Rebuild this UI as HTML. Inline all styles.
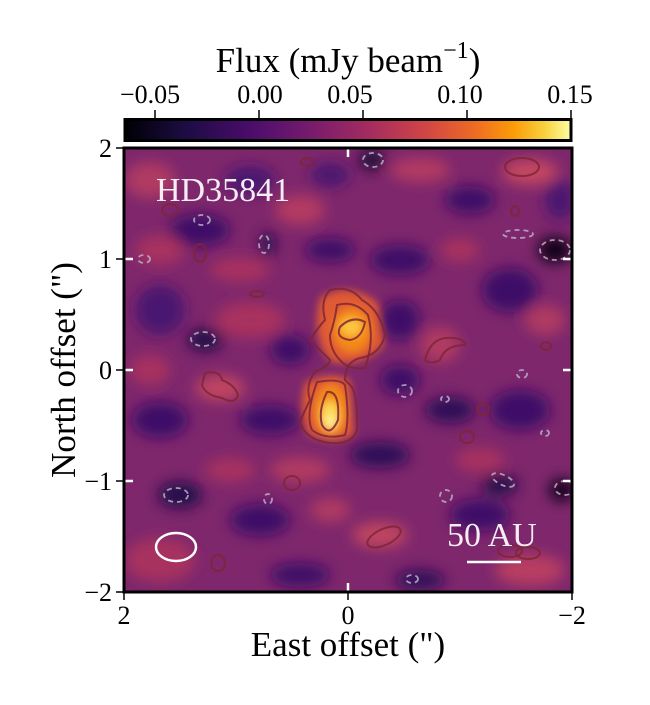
<!DOCTYPE html>
<html><head><meta charset="utf-8"><style>
body{margin:0;background:#fff;}
svg text{font-family:"Liberation Serif",serif;}
</style></head><body>
<svg width="650" height="700" viewBox="0 0 650 700" xmlns="http://www.w3.org/2000/svg">
<defs>
<linearGradient id="cb" x1="0" x2="1" y1="0" y2="0">
<stop offset="0" stop-color="#000004"/>
<stop offset="0.13" stop-color="#1b0c41"/>
<stop offset="0.28" stop-color="#4a0c6b"/>
<stop offset="0.42" stop-color="#781c6d"/>
<stop offset="0.55" stop-color="#a52c60"/>
<stop offset="0.67" stop-color="#cf4446"/>
<stop offset="0.78" stop-color="#ed6925"/>
<stop offset="0.87" stop-color="#fb9b06"/>
<stop offset="0.94" stop-color="#f7d13d"/>
<stop offset="1" stop-color="#fcffa4"/>
</linearGradient>
<filter id="bl" x="-20%" y="-20%" width="140%" height="140%"><feGaussianBlur stdDeviation="7"/></filter>
<filter id="bl2" x="-50%" y="-50%" width="200%" height="200%"><feGaussianBlur stdDeviation="4"/></filter>
<clipPath id="cp"><rect x="124" y="148" width="448" height="444"/></clipPath>
</defs>
<text x="348" y="72" font-size="35" text-anchor="middle">Flux (mJy beam<tspan dy="-14" font-size="24">−1</tspan><tspan dy="14">)</tspan></text>
<g font-size="26" text-anchor="middle">
<text x="150" y="103">−0.05</text><text x="260" y="103">0.00</text><text x="350" y="103">0.05</text><text x="460" y="103">0.10</text><text x="570" y="103">0.15</text>
</g>
<g stroke="#000" stroke-width="1.5">
<line x1="155" y1="110" x2="155" y2="118"/><line x1="259" y1="110" x2="259" y2="118"/><line x1="363" y1="110" x2="363" y2="118"/><line x1="467" y1="110" x2="467" y2="118"/><line x1="571" y1="110" x2="571" y2="118"/>
</g>
<rect x="125" y="119.5" width="446" height="21" fill="url(#cb)" stroke="#000" stroke-width="3"/>
<g clip-path="url(#cp)">
<rect x="124" y="148" width="448" height="444" fill="#7e276c"/>
<g filter="url(#bl)">
<ellipse cx="150" cy="180" rx="25" ry="18" fill="#b03a62"/>
<ellipse cx="200" cy="230" rx="30" ry="16" fill="#3e1068"/>
<ellipse cx="250" cy="180" rx="25" ry="14" fill="#4a1470"/>
<ellipse cx="300" cy="210" rx="25" ry="15" fill="#b33a62"/>
<ellipse cx="330" cy="175" rx="20" ry="12" fill="#4a1470"/>
<ellipse cx="420" cy="170" rx="30" ry="12" fill="#b33a62"/>
<ellipse cx="470" cy="200" rx="25" ry="14" fill="#3e1068"/>
<ellipse cx="530" cy="172" rx="28" ry="13" fill="#c44660"/>
<ellipse cx="560" cy="200" rx="15" ry="20" fill="#4a1470"/>
<ellipse cx="400" cy="260" rx="30" ry="15" fill="#3c1068"/>
<ellipse cx="460" cy="250" rx="20" ry="12" fill="#a8325f"/>
<ellipse cx="330" cy="250" rx="25" ry="12" fill="#3e1068"/>
<ellipse cx="240" cy="270" rx="30" ry="12" fill="#a8325f"/>
<ellipse cx="160" cy="250" rx="25" ry="15" fill="#a8325f"/>
<ellipse cx="510" cy="290" rx="28" ry="22" fill="#3e1068"/>
<ellipse cx="545" cy="320" rx="20" ry="15" fill="#b03a62"/>
<ellipse cx="250" cy="320" rx="35" ry="18" fill="#a8325f"/>
<ellipse cx="160" cy="310" rx="25" ry="25" fill="#4a1470"/>
<ellipse cx="205" cy="340" rx="18" ry="11" fill="#200a48"/>
<ellipse cx="290" cy="350" rx="20" ry="15" fill="#3e1068"/>
<ellipse cx="400" cy="320" rx="20" ry="20" fill="#3e1068"/>
<ellipse cx="220" cy="388" rx="25" ry="13" fill="#c04460"/>
<ellipse cx="150" cy="370" rx="20" ry="15" fill="#a8325f"/>
<ellipse cx="160" cy="420" rx="28" ry="18" fill="#3e1068"/>
<ellipse cx="270" cy="420" rx="30" ry="15" fill="#3e1068"/>
<ellipse cx="400" cy="380" rx="20" ry="15" fill="#3e1068"/>
<ellipse cx="440" cy="345" rx="20" ry="18" fill="#b03a62"/>
<ellipse cx="450" cy="410" rx="25" ry="13" fill="#2e0c58"/>
<ellipse cx="520" cy="410" rx="30" ry="20" fill="#3e1068"/>
<ellipse cx="480" cy="460" rx="25" ry="12" fill="#a8325f"/>
<ellipse cx="380" cy="455" rx="30" ry="13" fill="#2e0c58"/>
<ellipse cx="300" cy="470" rx="30" ry="13" fill="#b03a62"/>
<ellipse cx="180" cy="495" rx="22" ry="13" fill="#200a48"/>
<ellipse cx="230" cy="470" rx="25" ry="12" fill="#a8325f"/>
<ellipse cx="160" cy="560" rx="35" ry="22" fill="#a8325f"/>
<ellipse cx="260" cy="520" rx="30" ry="16" fill="#3e1068"/>
<ellipse cx="330" cy="510" rx="20" ry="12" fill="#b03a62"/>
<ellipse cx="380" cy="535" rx="28" ry="13" fill="#c04460"/>
<ellipse cx="480" cy="515" rx="30" ry="16" fill="#3e1068"/>
<ellipse cx="530" cy="570" rx="35" ry="16" fill="#b83e62"/>
<ellipse cx="420" cy="580" rx="25" ry="10" fill="#2e0c58"/>
<ellipse cx="300" cy="575" rx="30" ry="12" fill="#3e1068"/>
<ellipse cx="555" cy="250" rx="17" ry="13" fill="#0a0318"/>
<ellipse cx="372" cy="160" rx="13" ry="10" fill="#1a0838"/>
<ellipse cx="500" cy="485" rx="18" ry="10" fill="#200a48"/>
<ellipse cx="562" cy="490" rx="13" ry="11" fill="#10051f"/>
<ellipse cx="268" cy="244" rx="8" ry="12" fill="#2a0c50"/>
</g>
<g filter="url(#bl2)">
<path d="M320 298 Q348 280 378 303 L384 345 Q362 368 332 362 Q310 340 320 298Z" fill="#e05a32"/>
<path d="M305 383 Q330 370 350 380 L354 434 Q335 447 308 434 Q298 412 305 383Z" fill="#e05a32"/>
<ellipse cx="352" cy="330" rx="19" ry="22" fill="#f48a18"/>
<ellipse cx="331" cy="410" rx="16" ry="26" fill="#f48a18"/>
<ellipse cx="351" cy="327" rx="11" ry="9" fill="#fbc640"/>
<ellipse cx="330" cy="415" rx="9" ry="14" fill="#fcd856"/>
<ellipse cx="330" cy="422" rx="5" ry="7" fill="#fdf39a"/>
</g>
<g fill="none" stroke="#7e2636" stroke-width="2" stroke-opacity="0.85">
<path d="M330 290 Q350 285 362 300 Q380 310 385 335 Q380 355 360 358 Q345 362 345 380 L350 385 Q358 392 357 430 Q352 445 330 443 Q305 440 300 422 Q305 410 310 400 Q305 385 315 372 Q330 365 330 360 Q320 350 310 340 Q320 325 325 320 Q320 300 330 290Z"/>
<path d="M337 305 Q355 300 368 315 Q375 340 365 368 Q348 370 340 360 Q330 350 330 335 Q335 320 337 305Z"/>
<path d="M317 382 Q340 378 345 385 Q350 420 345 435 Q325 440 312 430 Q305 415 317 382Z"/>
<path d="M340 327 Q352 315 365 322 Q362 338 350 340 Q335 338 340 327Z"/>
<path d="M327 392 Q340 390 338 420 Q330 438 322 425 Q318 410 327 392Z"/>
<path d="M205 373 Q220 370 222 380 Q235 385 238 395 Q235 405 222 398 Q205 395 202 385Z"/>
<path d="M425 360 Q430 340 445 338 Q465 337 465 345 Q445 345 440 360 Q430 365 425 360Z"/>
<ellipse cx="522" cy="167" rx="17" ry="9"/>
<ellipse cx="307" cy="162" rx="6" ry="4"/>
<ellipse cx="170" cy="210" rx="8" ry="6"/>
<ellipse cx="200" cy="253" rx="6" ry="9"/>
<ellipse cx="515" cy="211" rx="4" ry="5"/>
<ellipse cx="257" cy="294" rx="7" ry="3"/>
<ellipse cx="546" cy="346" rx="5" ry="4"/>
<ellipse cx="483" cy="409" rx="6" ry="6"/>
<ellipse cx="467" cy="437" rx="7" ry="6"/>
<ellipse cx="292" cy="483" rx="8" ry="7"/>
<ellipse cx="384" cy="537" rx="18" ry="8" transform="rotate(-25 384 537)"/>
<ellipse cx="218" cy="563" rx="7" ry="8"/>
<ellipse cx="510" cy="551" rx="12" ry="6"/>
<ellipse cx="528" cy="553" rx="12" ry="6"/>
</g>
<g fill="none" stroke="#b8b0c8" stroke-width="1.8" stroke-dasharray="5,4" stroke-opacity="0.85">
<ellipse cx="373" cy="160" rx="10" ry="7"/>
<ellipse cx="202" cy="220" rx="8" ry="5"/>
<ellipse cx="264" cy="244" rx="5" ry="9"/>
<ellipse cx="518" cy="234" rx="15" ry="4"/>
<ellipse cx="555" cy="250" rx="15" ry="10"/>
<ellipse cx="144" cy="259" rx="6" ry="4"/>
<ellipse cx="203" cy="339" rx="12" ry="7"/>
<ellipse cx="405" cy="391" rx="7" ry="6"/>
<ellipse cx="522" cy="374" rx="5" ry="4"/>
<ellipse cx="445" cy="399" rx="4" ry="3"/>
<ellipse cx="545" cy="433" rx="4" ry="3"/>
<ellipse cx="176" cy="495" rx="12" ry="7"/>
<ellipse cx="268" cy="499" rx="4" ry="5"/>
<ellipse cx="446" cy="496" rx="6" ry="6"/>
<ellipse cx="503" cy="480" rx="12" ry="5" transform="rotate(25 503 480)"/>
<ellipse cx="565" cy="488" rx="10" ry="7"/>
<ellipse cx="412" cy="579" rx="6" ry="4"/>
</g>
<ellipse cx="176" cy="547" rx="20" ry="14" fill="none" stroke="#fff" stroke-width="2.5"/>
<line x1="467" y1="562" x2="521" y2="562" stroke="#fff" stroke-width="2.5"/>
<text x="156" y="201" font-size="34" fill="#f4eef4">HD35841</text>
<text x="447" y="546" font-size="34" fill="#f4eef4">50 AU</text>
<g stroke="#fff" stroke-width="2.5">
<line x1="348" y1="148" x2="348" y2="157"/><line x1="348" y1="592" x2="348" y2="583"/>
<line x1="124" y1="259" x2="133" y2="259"/><line x1="124" y1="370" x2="133" y2="370"/><line x1="124" y1="481" x2="133" y2="481"/>
<line x1="572" y1="259" x2="563" y2="259"/><line x1="572" y1="370" x2="563" y2="370"/><line x1="572" y1="481" x2="563" y2="481"/>
</g>
</g>
<rect x="124" y="148" width="448" height="444" fill="none" stroke="#000" stroke-width="3"/>
<g stroke="#000" stroke-width="1.5">
<line x1="124" y1="592" x2="124" y2="600"/><line x1="348" y1="592" x2="348" y2="600"/><line x1="572" y1="592" x2="572" y2="600"/>
<line x1="116" y1="148" x2="124" y2="148"/><line x1="116" y1="259" x2="124" y2="259"/><line x1="116" y1="370" x2="124" y2="370"/><line x1="116" y1="481" x2="124" y2="481"/><line x1="116" y1="592" x2="124" y2="592"/>
</g>
<g font-size="26">
<text x="124" y="624" text-anchor="middle">2</text><text x="348" y="624" text-anchor="middle">0</text><text x="572" y="624" text-anchor="middle">−2</text>
<text x="112" y="157" text-anchor="end">2</text><text x="112" y="268" text-anchor="end">1</text><text x="112" y="379" text-anchor="end">0</text><text x="112" y="490" text-anchor="end">−1</text><text x="112" y="601" text-anchor="end">−2</text>
</g>
<text x="348" y="656" font-size="35" text-anchor="middle">East offset (")</text>
<text transform="translate(75 370) rotate(-90)" font-size="35" text-anchor="middle">North offset (")</text>
</svg>
</body></html>
